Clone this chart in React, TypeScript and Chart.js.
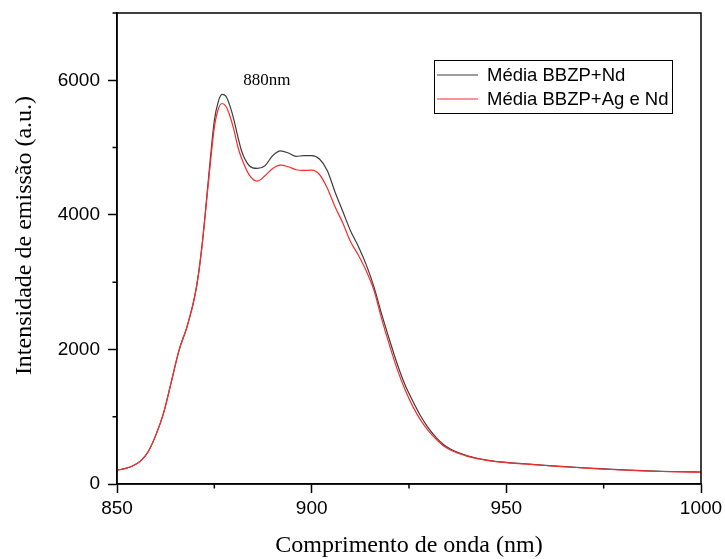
import React, { useEffect, useRef } from "react";
import { Chart, registerables } from "chart.js";

Chart.register(...registerables);

const wavelengths = [
  850, 852, 854, 856, 858, 860, 862, 864, 866, 868, 870, 871, 872, 873, 874, 875, 876, 877, 878, 879, 880,
  881, 882, 884, 886, 888, 890, 892, 894, 896, 898, 900, 902, 904, 906, 908, 910, 912, 914, 916, 918,
  920, 922, 924, 926, 928, 930, 932, 934, 936, 938, 940, 945, 950, 955, 960, 965, 970, 975, 980, 985,
  990, 995, 1000,
];

const mediaNd = [
  205, 228, 268, 340, 480, 730, 1060, 1530, 2000, 2340, 2800, 3150, 3630, 4230, 4850, 5400, 5680, 5790, 5760, 5620, 5420,
  5170, 4950, 4730, 4690, 4730, 4880, 4950, 4920, 4870, 4880, 4880, 4830, 4660, 4340, 4050, 3760, 3530, 3260, 2930, 2520,
  2140, 1780, 1470, 1230, 1010, 830, 690, 580, 510, 460, 420, 355, 320, 300, 278, 258, 240, 224, 210, 198,
  188, 182, 178,
];

const mediaAgNd = [
  205, 228, 268, 340, 480, 730, 1060, 1530, 2000, 2340, 2800, 3150, 3620, 4200, 4780, 5300, 5570, 5655, 5610, 5470, 5270,
  5020, 4840, 4590, 4500, 4580, 4690, 4740, 4715, 4670, 4660, 4665, 4600, 4400, 4120, 3880, 3600, 3400, 3170, 2880, 2450,
  2060, 1700, 1400, 1150, 950, 790, 665, 560, 495, 450, 410, 350, 318, 297, 275, 256, 238, 222, 208, 196,
  186, 180, 176,
];

const seriesLabels = ["Média BBZP+Nd", "Média BBZP+Ag e Nd"];
const seriesColors = ["#3c3c3c", "#ff2a2a"];

const xTickValues = [850, 900, 950, 1000];
const yTickValues = [0, 2000, 4000, 6000];
const xMinorTicks = [875, 925, 975];
const yMinorTicks = [1000, 3000, 5000, 7000];

const peakLabel = "880nm";
const peakLabelPos = { x: 888.5, y: 6000 };

const xTitle = "Comprimento de onda (nm)";
const yTitle = "Intensidade de emissão (a.u.)";

const SANS = "'Liberation Sans', Arial, sans-serif";
const SERIF = "'Liberation Serif', 'Times New Roman', serif";

const decorPlugin = {
  id: "decor",
  afterDraw(chart: any) {
    const { ctx, chartArea: a, scales } = chart;
    const xs = scales.x;
    const ys = scales.y;
    ctx.save();
    // frame
    ctx.strokeStyle = "#000";
    ctx.lineWidth = 1.5;
    ctx.strokeRect(a.left, a.top, a.right - a.left, a.bottom - a.top);
    // minor ticks
    ctx.lineWidth = 1.5;
    ctx.beginPath();
    yMinorTicks.forEach((v) => {
      const p = ys.getPixelForValue(v);
      ctx.moveTo(a.left - 4.5, p);
      ctx.lineTo(a.left, p);
    });
    xMinorTicks.forEach((v) => {
      const p = xs.getPixelForValue(v);
      ctx.moveTo(p, a.bottom);
      ctx.lineTo(p, a.bottom + 4.5);
    });
    ctx.stroke();

    // annotation
    ctx.fillStyle = "#000";
    ctx.font = `17px ${SERIF}`;
    ctx.textAlign = "center";
    ctx.textBaseline = "middle";
    ctx.fillText(peakLabel, xs.getPixelForValue(peakLabelPos.x), ys.getPixelForValue(peakLabelPos.y));

    // axis titles
    ctx.font = `24px ${SERIF}`;
    ctx.textAlign = "center";
    ctx.textBaseline = "alphabetic";
    ctx.fillText(xTitle, (a.left + a.right) / 2, a.bottom + 68);
    ctx.save();
    ctx.translate(31, (a.top + a.bottom) / 2 - 13);
    ctx.rotate(-Math.PI / 2);
    ctx.fillText(yTitle, 0, 0);
    ctx.restore();

    // legend
    const x0 = a.right - 267;
    const y0 = a.top + 47;
    const w = 238;
    const h = 53;
    ctx.strokeStyle = "#000";
    ctx.lineWidth = 1;
    ctx.strokeRect(x0 + 0.5, y0 + 0.5, w, h);
    ctx.font = `18.5px ${SANS}`;
    ctx.textAlign = "left";
    ctx.textBaseline = "middle";
    seriesLabels.forEach((label, i) => {
      const yy = y0 + 15 + i * 24;
      ctx.strokeStyle = seriesColors[i];
      ctx.lineWidth = 1.2;
      ctx.beginPath();
      ctx.moveTo(x0 + 3, yy);
      ctx.lineTo(x0 + 44, yy);
      ctx.stroke();
      ctx.fillStyle = "#000";
      ctx.fillText(label, x0 + 53, yy + 1);
    });
    ctx.restore();
  },
};

export default function App() {
  const ref = useRef<HTMLCanvasElement | null>(null);

  useEffect(() => {
    if (!ref.current) return;
    const toPoints = (vals: number[]) => wavelengths.map((x, i) => ({ x, y: vals[i] }));
    const chart = new Chart(ref.current, {
      type: "line",
      data: {
        datasets: [
          {
            label: seriesLabels[0],
            data: toPoints(mediaNd),
            borderColor: seriesColors[0],
            borderWidth: 1.2,
            pointRadius: 0,
            cubicInterpolationMode: "monotone",
            order: 1,
          },
          {
            label: seriesLabels[1],
            data: toPoints(mediaAgNd),
            borderColor: seriesColors[1],
            borderWidth: 1.2,
            pointRadius: 0,
            cubicInterpolationMode: "monotone",
            order: 0,
          },
        ],
      },
      options: {
        animation: false,
        responsive: false,
        devicePixelRatio: 1,
        layout: { padding: { left: 0, right: 24, top: 13, bottom: 0 } },
        plugins: { legend: { display: false }, tooltip: { enabled: false } },
        scales: {
          x: {
            type: "linear",
            min: 850,
            max: 1000,
            afterBuildTicks: (s: any) => {
              s.ticks = xTickValues.map((value) => ({ value }));
            },
            afterFit: (s: any) => {
              s.height = 75;
              s.paddingLeft = 0;
              s.paddingRight = 0;
            },
            border: { display: true, color: "#000", width: 1.5 },
            grid: { drawOnChartArea: false, drawTicks: true, tickLength: 9, tickColor: "#000", tickWidth: 1.5 },
            ticks: {
              autoSkip: false,
              maxRotation: 0,
              padding: 4,
              color: "#000",
              font: { family: SANS, size: 19 },
              callback: (v: any) => String(v),
            },
          },
          y: {
            type: "linear",
            min: 0,
            max: 7000,
            afterBuildTicks: (s: any) => {
              s.ticks = yTickValues.map((value) => ({ value }));
            },
            afterFit: (s: any) => {
              s.width = 117;
              s.paddingTop = 0;
              s.paddingBottom = 0;
            },
            border: { display: true, color: "#000", width: 1.5 },
            grid: { drawOnChartArea: false, drawTicks: true, tickLength: 9, tickColor: "#000", tickWidth: 1.5 },
            ticks: {
              autoSkip: false,
              padding: 8,
              color: "#000",
              font: { family: SANS, size: 19 },
              callback: (v: any) => String(v),
            },
          },
        },
      },
      plugins: [decorPlugin],
    } as any);
    return () => chart.destroy();
  }, []);

  return (
    <div style={{ position: "absolute", left: 0, top: 0, width: 725, height: 559, background: "#fff" }}>
      <canvas ref={ref} width={725} height={559} />
    </div>
  );
}
